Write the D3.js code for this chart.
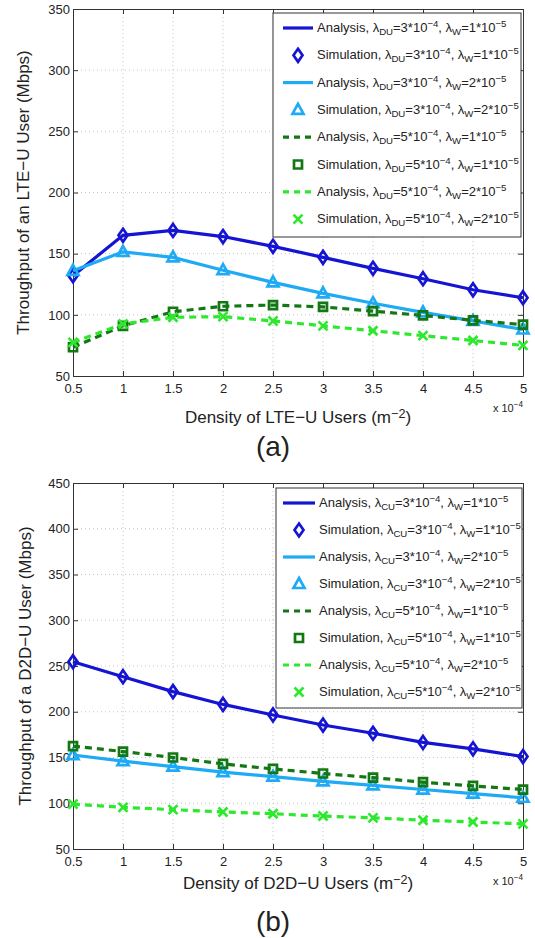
<!DOCTYPE html>
<html>
<head>
<meta charset="utf-8">
<script src="https://cdn.jsdelivr.net/npm/d3@7"></script>
<style>
  body { margin: 0; background: #fff; }
  svg { display: block; }
  text { font-family: "Liberation Sans", Arial, Helvetica, sans-serif; fill: #222; }
</style>
</head>
<body>
<svg id="fig"></svg>
<script>
const W = 535;
const H = 938;

// ---- data ----
const densities = [0.5, 1, 1.5, 2, 2.5, 3, 3.5, 4, 4.5, 5]; // x 10^-4
const xTickLabels = ["0.5", "1", "1.5", "2", "2.5", "3", "3.5", "4", "4.5", "5"];

// (a) LTE-U throughput
const lteDu3W1 = [132, 165, 169, 164, 156, 147, 138, 129.5, 120.5, 114];
const lteDu3W2 = [136, 151.5, 147, 136.5, 126.5, 117.5, 109.5, 102, 95, 88];
const lteDu5W1 = [73.5, 91, 102.5, 107, 108, 106.5, 103, 99.5, 95.5, 92];
const lteDu5W2 = [77.5, 92.5, 98, 98.5, 95, 91, 87, 83, 79, 75];
const lteYTicks = [50, 100, 150, 200, 250, 300, 350];

// (b) D2D-U throughput
const d2dCu3W1 = [254.7, 238.3, 222, 208, 196.5, 185.5, 176.5, 166.5, 159.5, 151];
const d2dCu3W2 = [152.7, 146, 140, 134, 129, 124, 119.5, 115, 110.5, 106];
const d2dCu5W1 = [162.5, 156.5, 150, 143, 137.5, 132.5, 128, 123, 119, 115];
const d2dCu5W2 = [99, 95.5, 93, 90.5, 88.5, 86, 84, 81.5, 79.5, 77.5];
const d2dYTicks = [50, 100, 150, 200, 250, 300, 350, 400, 450];

// legend parameters
const legendLambda = ["3", "3", "5", "5"];
const legendW = ["1", "2", "1", "2"];

const seriesColors = ["#1414d2", "#1eaaf5", "#137813", "#2ee82e"];
const seriesDash = [null, null, "7,5", "7,5"];
const seriesMarker = ["diamond", "triangle", "square", "x"];

const svg = d3.select("#fig").attr("width", W).attr("height", H);

// marker shapes
function markerPath(type) {
  if (type === "diamond") return "M0,-6.5L4.5,0L0,6.5L-4.5,0Z";
  if (type === "triangle") return "M0,-6L5.5,4L-5.5,4Z";
  if (type === "square") return "M-4,-4H4V4H-4Z";
  return "M-4.5,-4.5L4.5,4.5M-4.5,4.5L4.5,-4.5";
}

// text with super/subscripts
function richText(sel, parts, size) {
  let off = 0;
  parts.forEach(p => {
    const target = p.s === "sub" ? 3 : p.s === "sup" ? -5 : 0;
    sel.append("tspan")
      .attr("dy", target - off)
      .attr("font-size", p.s ? size * 0.74 : size)
      .text(p.t);
    off = target;
  });
}

function drawPanel(o) {
  const left = 73, right = 523;
  const x = d3.scaleLinear().domain([0.5, 5]).range([left, right]);
  const y = d3.scaleLinear().domain(o.yDomain).range([o.bottom, o.top]);
  const g = svg.append("g");

  // grid
  g.selectAll(null).data(densities.slice(1, -1)).enter().append("line")
    .attr("x1", d => x(d)).attr("x2", d => x(d))
    .attr("y1", o.top).attr("y2", o.bottom)
    .attr("stroke", "#c4c4c4").attr("stroke-dasharray", "1,3");
  g.selectAll(null).data(o.yTicks.slice(1, -1)).enter().append("line")
    .attr("x1", left).attr("x2", right)
    .attr("y1", d => y(d)).attr("y2", d => y(d))
    .attr("stroke", "#c4c4c4").attr("stroke-dasharray", "1,3");

  // axes (inward ticks on all four sides)
  const fmtX = (d, i) => xTickLabels[i];
  g.append("g").attr("transform", `translate(0,${o.bottom})`)
    .call(d3.axisBottom(x).tickValues(densities).tickFormat(fmtX).tickSizeInner(-5).tickSizeOuter(0).tickPadding(8));
  g.append("g").attr("transform", `translate(0,${o.top})`)
    .call(d3.axisTop(x).tickValues(densities).tickFormat("").tickSizeInner(-5).tickSizeOuter(0));
  g.append("g").attr("transform", `translate(${left},0)`)
    .call(d3.axisLeft(y).tickValues(o.yTicks).tickSizeInner(-5).tickSizeOuter(0).tickPadding(3));
  g.append("g").attr("transform", `translate(${right},0)`)
    .call(d3.axisRight(y).tickValues(o.yTicks).tickFormat("").tickSizeInner(-5).tickSizeOuter(0));
  g.selectAll(".domain").attr("stroke", "#333");
  g.selectAll(".tick line").attr("stroke", "#333");
  g.selectAll(".tick text").attr("font-size", 13).attr("fill", "#222")
    .style("font-family", '"Liberation Sans", Arial, sans-serif');

  // series
  const line = d3.line().x((d, i) => x(densities[i])).y(d => y(d));
  o.series.forEach((vals, k) => {
    g.append("path").datum(vals)
      .attr("d", line)
      .attr("fill", "none")
      .attr("stroke", seriesColors[k])
      .attr("stroke-width", 3.2)
      .attr("stroke-dasharray", seriesDash[k]);
    g.selectAll(null).data(vals).enter().append("path")
      .attr("transform", (d, i) => `translate(${x(densities[i])},${y(d)})`)
      .attr("d", markerPath(seriesMarker[k]))
      .attr("fill", "none")
      .attr("stroke", seriesColors[k])
      .attr("stroke-width", 2.7);
  });

  // y label
  g.append("text")
    .attr("transform", `translate(${o.yLabelX},${(o.top + o.bottom) / 2}) rotate(-90)`)
    .attr("text-anchor", "middle")
    .attr("font-size", 17)
    .text(o.yLabel);

  // x label
  const xl = g.append("text")
    .attr("x", (left + right) / 2).attr("y", o.xLabelY)
    .attr("text-anchor", "middle");
  richText(xl, [{ t: o.xLabel + " (m" }, { t: "−2", s: "sup" }, { t: ")" }], 17);

  // exponent
  const ex = g.append("text")
    .attr("x", right).attr("y", o.bottom + 36)
    .attr("text-anchor", "end");
  richText(ex, [{ t: "x 10" }, { t: "−4", s: "sup" }], 11);

  // panel letter
  g.append("text")
    .attr("x", 273).attr("y", o.letterY)
    .attr("text-anchor", "middle")
    .attr("font-size", 28)
    .text(o.letter);

  // legend
  const lg = o.legend;
  g.append("rect")
    .attr("x", lg.x0).attr("y", lg.y0)
    .attr("width", lg.x1 - lg.x0).attr("height", lg.y1 - lg.y0)
    .attr("fill", "#fff").attr("stroke", "#333").attr("stroke-width", 1);
  for (let k = 0; k < 4; k++) {
    ["Analysis", "Simulation"].forEach((kind, j) => {
      const cy = lg.row0 + (2 * k + j) * lg.dy;
      if (j === 0) {
        g.append("line")
          .attr("x1", lg.lineX0).attr("x2", lg.lineX1)
          .attr("y1", cy).attr("y2", cy)
          .attr("stroke", seriesColors[k]).attr("stroke-width", 3.2)
          .attr("stroke-dasharray", seriesDash[k] ? "6,5" : null);
      } else {
        g.append("path")
          .attr("transform", `translate(${(lg.lineX0 + lg.lineX1) / 2},${cy})`)
          .attr("d", markerPath(seriesMarker[k]))
          .attr("fill", "none")
          .attr("stroke", seriesColors[k])
          .attr("stroke-width", 2.7);
      }
      const t = g.append("text").attr("x", lg.textX).attr("y", cy + 4);
      richText(t, [
        { t: kind + ", λ" }, { t: o.lambdaSub, s: "sub" },
        { t: "=" + legendLambda[k] + "*10" }, { t: "−4", s: "sup" },
        { t: ", λ" }, { t: "W", s: "sub" },
        { t: "=" + legendW[k] + "*10" }, { t: "−5", s: "sup" }
      ], 13);
    });
  }
}

drawPanel({
  top: 9, bottom: 376, yDomain: [50, 350], yTicks: lteYTicks,
  series: [lteDu3W1, lteDu3W2, lteDu5W1, lteDu5W2],
  yLabel: "Throughput of an LTE−U User (Mbps)", yLabelX: 29,
  xLabel: "Density of LTE−U Users", xLabelY: 423,
  letter: "(a)", letterY: 456, lambdaSub: "DU",
  legend: { x0: 273, y0: 13, x1: 521, y1: 237, row0: 28, dy: 27.3, lineX0: 283, lineX1: 313, textX: 317 }
});

drawPanel({
  top: 483, bottom: 849, yDomain: [50, 450], yTicks: d2dYTicks,
  series: [d2dCu3W1, d2dCu3W2, d2dCu5W1, d2dCu5W2],
  yLabel: "Throughput of a D2D−U User (Mbps)", yLabelX: 31,
  xLabel: "Density of D2D−U Users", xLabelY: 889,
  letter: "(b)", letterY: 931, lambdaSub: "CU",
  legend: { x0: 276, y0: 488, x1: 522, y1: 708, row0: 503, dy: 27, lineX0: 283, lineX1: 315, textX: 319 }
});
</script>
</body>
</html>
